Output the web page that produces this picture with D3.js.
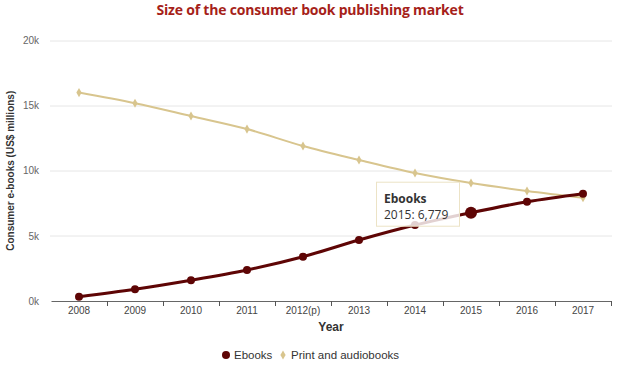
<!DOCTYPE html>
<html>
<head>
<meta charset="utf-8">
<script src="https://cdn.jsdelivr.net/npm/d3@7"></script>
<style>
  body { margin: 0; background: #fff; }
  svg { display: block; }
</style>
</head>
<body>
<svg id="chart"></svg>
<script>
// values (US$ millions)
var years = ["2008", "2009", "2010", "2011", "2012(p)", "2013", "2014", "2015", "2016", "2017"];
var ebooks = [330, 900, 1590, 2380, 3400, 4680, 5830, 6779, 7620, 8240];
var printAudio = [16000, 15180, 14200, 13200, 11900, 10830, 9830, 9060, 8450, 7930];
var yTicks = [0, 5000, 10000, 15000, 20000];
var hoverIndex = 7;

var W = 620, H = 374;
var margin = {top: 40.5, right: 9, bottom: 73, left: 51};
var width = W - margin.left - margin.right;
var height = H - margin.top - margin.bottom;

var ebookColor = "#5e0505";
var printColor = "#d8c58e";

var svg = d3.select("#chart").attr("width", W).attr("height", H);

svg.append("text")
  .attr("x", 310).attr("y", 15)
  .attr("text-anchor", "middle")
  .style("font-family", "'Open Sans', sans-serif")
  .style("font-weight", "bold")
  .style("font-size", "14px")
  .style("letter-spacing", "-0.2px")
  .style("fill", "#a61f1a")
  .text("Size of the consumer book publishing market");

var g = svg.append("g").attr("transform", "translate(" + margin.left + "," + margin.top + ")");

var x = d3.scaleBand().domain(years).range([0, width]);
var y = d3.scaleLinear().domain([0, 20000]).range([height, 0]);
var cx = function(i) { return x(years[i]) + x.bandwidth() / 2; };

// grid
g.append("g").selectAll("line").data(yTicks.filter(function(d) { return d > 0; })).enter().append("line")
  .attr("x1", -1).attr("x2", width + 1)
  .attr("y1", function(d) { return Math.round(y(d)) + 0.5; })
  .attr("y2", function(d) { return Math.round(y(d)) + 0.5; })
  .style("stroke", "#e6e6e6").style("stroke-width", 1);

// y axis labels
var yAxis = d3.axisLeft(y).tickValues(yTicks).tickSize(0).tickPadding(12)
  .tickFormat(function(d) { return (d / 1000) + "k"; });
var ya = g.append("g").call(yAxis);
ya.select(".domain").remove();
ya.selectAll("text")
  .style("font-family", "'Liberation Sans', Arial, sans-serif")
  .style("font-size", "10px").style("fill", "#666");

// x axis
var xa = g.append("g").attr("transform", "translate(0," + height + ")")
  .call(d3.axisBottom(x).tickSize(0).tickPadding(6));
xa.select(".domain").style("stroke", "#666").style("stroke-width", 1.2);
xa.selectAll("text")
  .style("font-family", "'Liberation Sans', Arial, sans-serif")
  .style("font-size", "10px").style("fill", "#444");
xa.selectAll(".tick line").remove();
var bounds = years.map(function(d) { return x(d); }).concat([width]);
xa.selectAll(".bound").data(bounds.slice(1)).enter().append("line")
  .attr("x1", function(d) { return Math.round(d) + 0.5; })
  .attr("x2", function(d) { return Math.round(d) + 0.5; })
  .attr("y1", 0).attr("y2", 5)
  .style("stroke", "#555");

// axis titles
svg.append("text")
  .attr("transform", "translate(14," + (margin.top + height / 2) + ") rotate(-90)")
  .attr("text-anchor", "middle")
  .style("font-family", "'Liberation Sans', Arial, sans-serif")
  .style("font-weight", "bold").style("font-size", "10px").style("fill", "#333")
  .text("Consumer e-books (US$ millions)");
svg.append("text")
  .attr("x", margin.left + width / 2).attr("y", 331)
  .attr("text-anchor", "middle")
  .style("font-family", "'Liberation Sans', Arial, sans-serif")
  .style("font-weight", "bold").style("font-size", "12px").style("fill", "#333")
  .text("Year");

var line = d3.line()
  .x(function(d, i) { return cx(i); })
  .y(function(d) { return y(d); })
  .curve(d3.curveMonotoneX);

var diamond = d3.symbol().type(d3.symbolDiamond).size(24);

// print line
g.append("path").datum(printAudio).attr("d", line)
  .style("fill", "none").style("stroke", printColor).style("stroke-width", 2);
g.selectAll(".pm").data(printAudio).enter().append("path")
  .attr("transform", function(d, i) { return "translate(" + cx(i) + "," + y(d) + ")"; })
  .attr("d", diamond).style("fill", printColor);

// ebooks line
g.append("path").datum(ebooks).attr("d", line)
  .style("fill", "none").style("stroke", ebookColor).style("stroke-width", 3);
g.selectAll(".em").data(ebooks).enter().append("circle")
  .attr("cx", function(d, i) { return cx(i); })
  .attr("cy", function(d) { return y(d); })
  .attr("r", function(d, i) { return i === hoverIndex ? 6 : 4; })
  .style("fill", ebookColor);

// tooltip
var hx = cx(hoverIndex), hy = y(ebooks[hoverIndex]);
var tip = g.append("g").attr("transform", "translate(" + (hx - 95) + "," + (hy - 31) + ")");
tip.append("rect").attr("x", 0.5).attr("y", 0.5).attr("width", 83).attr("height", 44)
  .style("fill", "rgba(255,255,255,0.82)").style("stroke", "#ece3c6").style("stroke-width", 1);
tip.append("text").attr("x", 8).attr("y", 21)
  .style("font-family", "'Open Sans', sans-serif").style("font-weight", "bold")
  .style("font-size", "12px").style("fill", "#333").text("Ebooks");
tip.append("text").attr("x", 8).attr("y", 37)
  .style("font-family", "'Open Sans', sans-serif")
  .style("font-size", "12px").style("fill", "#333")
  .text(years[hoverIndex] + ": " + d3.format(",")(ebooks[hoverIndex]));

// legend
var lg = svg.append("g").attr("transform", "translate(0,355)");
lg.append("circle").attr("cx", 226).attr("cy", 0).attr("r", 4).style("fill", ebookColor);
lg.append("text").attr("x", 234).attr("y", 4)
  .style("font-family", "'Liberation Sans', Arial, sans-serif")
  .style("font-size", "11.5px").style("fill", "#333").text("Ebooks");
lg.append("path").attr("transform", "translate(283,0)").attr("d", diamond).style("fill", printColor);
lg.append("text").attr("x", 291).attr("y", 4)
  .style("font-family", "'Liberation Sans', Arial, sans-serif")
  .style("font-size", "11.5px").style("fill", "#333").text("Print and audiobooks");
</script>
</body>
</html>
